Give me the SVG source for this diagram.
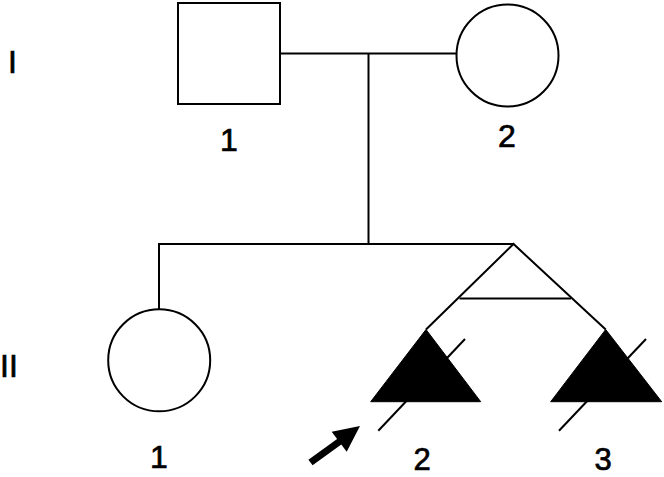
<svg xmlns="http://www.w3.org/2000/svg" width="664" height="477" viewBox="0 0 664 477">
<style>
.ln{fill:none;stroke:#000;stroke-width:2}
.nd{fill:#fff;stroke:#000;stroke-width:2}
.af{fill:#000;stroke:#000;stroke-width:1}
.t{font-family:"Liberation Sans",Arial,sans-serif;font-size:32px;fill:#000;stroke:#000;stroke-width:0.7}
.s{font-size:31px}
.c{text-anchor:middle}
</style>
<rect width="664" height="477" fill="#fff"/>
<g id="connectors">
<line class="ln" x1="280" y1="53.5" x2="457" y2="53.5"/>
<line class="ln" x1="368.5" y1="53.5" x2="368.5" y2="244"/>
<line class="ln" x1="159" y1="244" x2="513.5" y2="244"/>
<line class="ln" x1="159" y1="243" x2="159" y2="309"/>
<polyline class="ln" points="426,329.5 513.5,244 605.7,329.5"/>
<line class="ln" x1="459.5" y1="298.5" x2="571" y2="298.5"/>
</g>
<g id="gen-I-label"><text class="t" x="8" y="73">I</text></g>
<g id="gen-II-label"><text class="t" x="0" y="377">II</text></g>
<g id="I-1">
<rect class="nd" x="178" y="3" width="102" height="101"/>
<text class="t c" x="229" y="151">1</text>
</g>
<g id="I-2">
<circle class="nd" cx="507.5" cy="55.5" r="51"/>
<text class="t c" x="507" y="147">2</text>
</g>
<g id="II-1">
<circle class="nd" cx="159.2" cy="360.3" r="51"/>
<text class="t c" x="159" y="468">1</text>
</g>
<g id="II-2">
<polygon class="af" points="426,329.5 370.7,401.7 480.7,401.7"/>
<line class="ln" x1="378.3" y1="430.7" x2="465" y2="339"/>
<text class="t s c" x="422" y="470">2</text>
</g>
<g id="II-3">
<polygon class="af" points="605.7,329.5 550.7,401.7 661.7,401.7"/>
<line class="ln" x1="559" y1="430.7" x2="646" y2="339"/>
<text class="t s c" x="603" y="470">3</text>
</g>
<g id="proband-arrow">
<polygon fill="#000" points="308.4,459.7 337.1,438.9 331.7,431.7 360,426 346.7,451.7 341.3,444.5 312.6,465.3"/>
</g>
</svg>
